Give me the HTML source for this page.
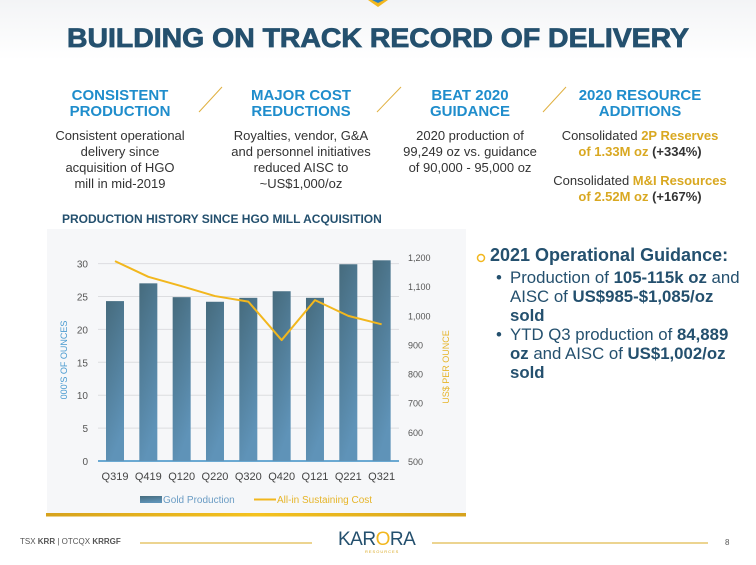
<!DOCTYPE html>
<html><head><meta charset="utf-8">
<style>
body{margin:0;width:756px;height:565px;overflow:hidden;background:#fff;font-family:"Liberation Sans",sans-serif;position:relative}
.a{position:absolute}
.h{color:#1f8dcc;font-weight:bold;font-size:15px;line-height:16px;text-align:center}
.b{color:#333;font-size:13px;line-height:16px;text-align:center}
.g{color:#d9a821;font-weight:bold}
.k{font-weight:bold;color:#333}
.r{color:#24506e;font-size:16.8px;line-height:19px}
.r b{font-weight:bold}
.li{position:relative;padding-left:14px;width:238px}
.li .dot{position:absolute;left:0;top:0}
</style></head><body>
<div class="a" style="left:0;top:0;width:756px;height:60px;background:linear-gradient(#f3f4f6,#fff)"></div>
<svg class="a" style="left:0;top:0" width="756" height="565">
<polygon points="368,0 388,0 378,7" fill="#f2b71e"/>
<polygon points="372,0 384,0 378,3" fill="#2a7fc0"/>
<text x="378" y="47" text-anchor="middle" font-family="Liberation Sans" font-weight="bold" font-size="27" fill="#24506e" stroke="#24506e" stroke-width="0.8" textLength="622" lengthAdjust="spacingAndGlyphs">BUILDING ON TRACK RECORD OF DELIVERY</text>
<line x1="199" y1="112" x2="222" y2="87" stroke="#e0b040" stroke-width="1"/>
<line x1="377" y1="112" x2="401" y2="87" stroke="#e0b040" stroke-width="1"/>
<line x1="543" y1="112" x2="566" y2="87" stroke="#e0b040" stroke-width="1"/>
<circle cx="481" cy="258" r="3.5" fill="none" stroke="#f2b71e" stroke-width="1.5"/>
<line x1="140" y1="543" x2="312" y2="543" stroke="#d9a821" stroke-width="1"/>
<line x1="432" y1="543" x2="708" y2="543" stroke="#d9a821" stroke-width="1"/>
</svg>
<div class="a h" style="left:40px;top:88px;width:160px">CONSISTENT<br>PRODUCTION</div>
<div class="a b" style="left:20px;top:128px;width:200px">Consistent operational<br>delivery since<br>acquisition of HGO<br>mill in mid-2019</div>
<div class="a h" style="left:220px;top:88px;width:162px">MAJOR COST<br>REDUCTIONS</div>
<div class="a b" style="left:201px;top:128px;width:200px">Royalties, vendor, G&amp;A<br>and personnel initiatives<br>reduced AISC to<br>~US$1,000/oz</div>
<div class="a h" style="left:390px;top:88px;width:160px">BEAT 2020<br>GUIDANCE</div>
<div class="a b" style="left:370px;top:128px;width:200px">2020 production of<br>99,249 oz vs. guidance<br>of 90,000 - 95,000 oz</div>
<div class="a h" style="left:555px;top:88px;width:170px">2020 RESOURCE<br>ADDITIONS</div>
<div class="a b" style="left:540px;top:128px;width:200px">Consolidated <span class="g">2P Reserves</span><br><span class="g">of 1.33M oz</span> <span class="k">(+334%)</span></div>
<div class="a b" style="left:540px;top:173px;width:200px">Consolidated <span class="g">M&amp;I Resources</span><br><span class="g">of 2.52M oz</span> <span class="k">(+167%)</span></div>
<div class="a" style="left:62px;top:212px;font-size:12px;font-weight:bold;color:#24506e">PRODUCTION HISTORY SINCE HGO MILL ACQUISITION</div>
<div class="a" style="left:490px;top:245px;font-size:18px;font-weight:bold;color:#24506e">2021 Operational Guidance:</div>
<div class="a r" style="left:496px;top:268px">
<div class="li"><span class="dot">•</span>Production of <b>105-115k oz</b> and AISC of <b>US$985-$1,085/oz sold</b></div>
<div class="li"><span class="dot">•</span>YTD Q3 production of <b>84,889 oz</b> and AISC of <b>US$1,002/oz sold</b></div>
</div>
<div class="a" style="left:20px;top:537px;font-size:8px;color:#555">TSX <b>KRR</b> | OTCQX <b>KRRGF</b></div>
<div class="a" style="left:338px;top:529px;font-size:19px;color:#24506e;letter-spacing:-0.5px">KAR<span style="color:#f2b71e">O</span>RA</div>
<div class="a" style="left:365px;top:549px;font-size:4px;color:#d9a821;letter-spacing:1px">RESOURCES</div>
<div class="a" style="left:725px;top:538px;font-size:8px;color:#555">8</div>

<svg class="a" id="chart" style="left:0;top:0" width="756" height="565"></svg>
<script>
const categories=["Q319","Q419","Q120","Q220","Q320","Q420","Q121","Q221","Q321"];
const production=[24.3,27.0,24.9,24.2,24.8,25.8,24.8,29.9,30.5];
const aisc=[1186,1132,1100,1066,1047,915,1052,998,969];
const leftTicks=[0,5,10,15,20,25,30];
const rightTicks=[500,600,700,800,900,1000,1100,1200];
const NS="http://www.w3.org/2000/svg";
const svg=document.getElementById('chart');
function mk(t,a,p){const e=document.createElementNS(NS,t);for(const k in a)e.setAttribute(k,a[k]);(p||svg).appendChild(e);return e;}
const y0=461,yL=v=>y0-v*6.58,yR=v=>y0-(v-500)*0.2914;
const xC=i=>115+i*33.33;
const defs=mk('defs',{});
const gr=mk('linearGradient',{id:'bg',x1:0,y1:0,x2:0.3,y2:1},defs);
mk('stop',{offset:0,'stop-color':'#466b7d'},gr);mk('stop',{offset:1,'stop-color':'#5f93b8'},gr);
const gg=mk('linearGradient',{id:'gb',x1:0,y1:0,x2:1,y2:0},defs);
mk('stop',{offset:0,'stop-color':'#d6a21d'},gg);mk('stop',{offset:0.5,'stop-color':'#f4c21f'},gg);mk('stop',{offset:1,'stop-color':'#d6a21d'},gg);
let r=mk('rect',{x:47,y:229,width:419,height:284,fill:'#f6f7f9'});

r=mk('rect',{x:46,y:513,width:420,height:3.5,fill:'url(#gb)'});

leftTicks.forEach(v=>{
  const l=mk('line',{x1:98,x2:399,y1:yL(v),y2:yL(v),stroke:v===0?'#3d8fc6':'#dcdde0','stroke-width':v===0?1.5:1});
  
  const t=mk('text',{x:88,y:yL(v)+4,'text-anchor':'end','font-size':10,fill:'#555','font-family':'Liberation Sans'});t.textContent=v;
  
});
rightTicks.forEach(v=>{
  const t=mk('text',{x:408,y:yR(v)+4,'font-size':9,fill:'#555','font-family':'Liberation Sans'});t.textContent=v.toLocaleString('en-US');
  
});
production.forEach((v,i)=>{
  const b=mk('rect',{x:xC(i)-9,y:yL(v),width:18,height:yL(0)-yL(v),fill:'url(#bg)'});
  
  const t=mk('text',{x:xC(i),y:480,'text-anchor':'middle','font-size':11,fill:'#444','font-family':'Liberation Sans'});t.textContent=categories[i];
  
});
const pl=mk('polyline',{points:aisc.map((v,i)=>xC(i)+','+yR(v)).join(' '),fill:'none',stroke:'#f2b71e','stroke-width':2,'stroke-linejoin':'round'});

let t=mk('text',{x:0,y:0,'font-size':9,fill:'#4a9bd0','font-family':'Liberation Sans','text-anchor':'middle',transform:'translate(67,360) rotate(-90)'});t.textContent="000'S OF OUNCES";

t=mk('text',{x:0,y:0,'font-size':9,fill:'#e6b52a','font-family':'Liberation Sans','text-anchor':'middle',transform:'translate(449,367) rotate(-90)'});t.textContent="US$ PER OUNCE";

r=mk('rect',{x:140,y:496,width:22,height:7,fill:'url(#bg)'});

t=mk('text',{x:163,y:503,'font-size':10,fill:'#6a9cc4','font-family':'Liberation Sans'});t.textContent="Gold Production";

r=mk('line',{x1:254,x2:276,y1:499.5,y2:499.5,stroke:'#f2b71e','stroke-width':2});

t=mk('text',{x:277,y:503,'font-size':10,fill:'#e6b52a','font-family':'Liberation Sans'});t.textContent="All-in Sustaining Cost";

</script>
</body></html>
